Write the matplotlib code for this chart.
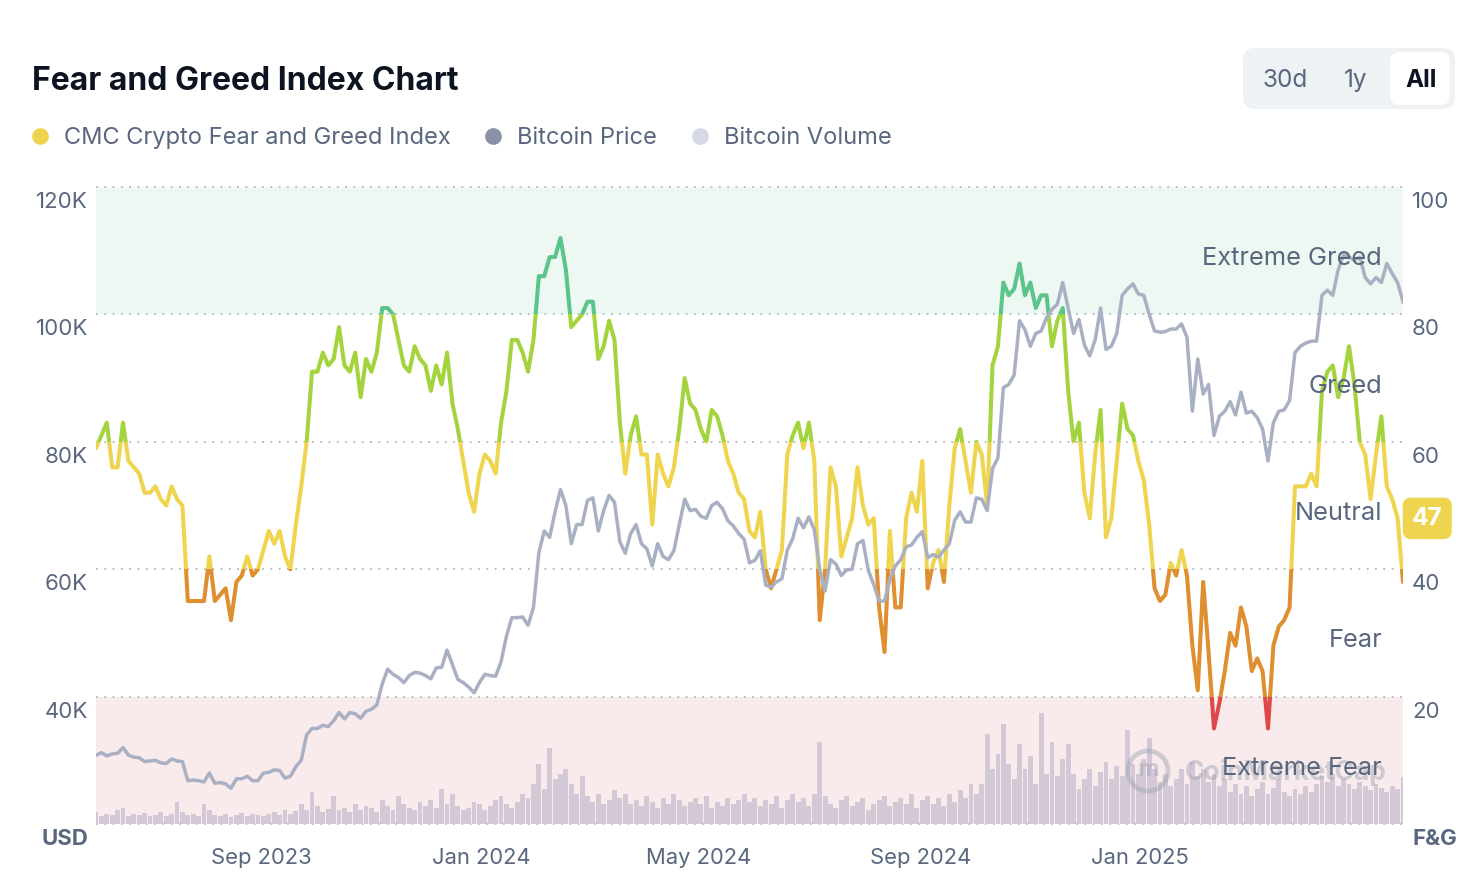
import numpy as np
import pandas as pd
import matplotlib
matplotlib.use('Agg')
import matplotlib.pyplot as plt
import matplotlib.dates as mdates
from matplotlib import transforms
from matplotlib.patches import Rectangle, FancyBboxPatch, Circle
from matplotlib.lines import Line2D

plt.rcParams['font.family'] = ['Inter', 'DejaVu Sans']

# data, one reading every 3 days from 1 Jun 2023
start = '2023-06-01'
step = '3D'

fear_greed = [
    59, 61, 63, 56, 56, 63, 57, 56, 55, 52,
    52, 53, 51, 50, 53, 51, 50, 35, 35, 35,
    35, 42, 35, 36, 37, 32, 38, 39, 42, 39,
    40, 43, 46, 44, 46, 42, 40, 47, 53, 60,
    71, 71, 74, 72, 73, 78, 72, 71, 74, 67,
    73, 71, 74, 81, 81, 80, 76, 72, 71, 75,
    73, 72,
    68, 72, 69, 74, 66, 62, 57, 52,
    49, 55, 58, 57, 55, 63, 68, 76, 76, 74,
    71, 76, 86, 86, 89, 89, 92, 87, 78, 79,
    80, 82, 82, 73, 75, 79, 76, 63, 55, 61,
    64, 58, 58, 47, 58, 55, 53, 56, 62, 70,
    66, 65, 62, 60, 65, 64, 61, 57, 55, 52,
    51, 46, 45, 49,
    40, 37, 40, 43, 58, 61, 63, 59, 63, 57,
    32, 40, 56, 53, 42, 45, 48, 56, 50, 47,
    48, 34, 27, 46, 34, 34, 48, 52, 49, 57,
    37, 41, 43, 38, 50, 59, 62, 57, 52, 60,
    58, 50, 72, 75, 85, 83, 84, 88, 83, 85,
    81, 83, 83, 75, 79, 81, 68, 60, 63, 52,
    48, 58,
    65, 45, 48, 57, 66, 62, 61, 57, 54, 47,
    37, 35, 36, 41, 39, 43, 39, 28, 21, 38,
    27, 15, 19, 24, 30, 28, 34, 31, 24, 26,
    24, 15, 28, 31, 32, 34, 53, 53, 53, 55,
    53, 68, 71, 72, 67, 70, 75, 69, 60, 58,
    51, 58, 64, 53, 51, 48, 38,
]

# bitcoin price, thousands of USD
btc_price = [
    30.8, 31.2, 30.7, 31.0, 31.1, 32.0, 30.8, 30.5, 30.4, 29.8,
    29.9, 30.0, 29.6, 29.5, 30.2, 29.9, 29.8, 26.8, 26.9, 26.8,
    26.6, 28.0, 26.4, 26.5, 26.3, 25.6, 27.1, 27.1, 27.5, 26.8,
    26.8, 28.0, 28.1, 28.5, 28.4, 27.2, 27.5, 29.0, 30.0, 34.0,
    35.0, 35.0, 35.5, 35.3, 36.2, 37.5, 36.5, 37.5, 37.3, 36.6,
    37.7, 38.0, 38.7, 42.0, 44.3, 43.5, 43.0, 42.2, 43.3, 43.8,
    43.7, 43.3,
    42.8, 44.5, 44.6, 47.3, 45.0, 42.7, 42.2, 41.5,
    40.6, 42.2, 43.5, 43.3, 43.2, 45.5, 49.5, 52.4, 52.4, 52.5,
    51.2, 54.0, 62.6, 66.0, 65.0, 69.0, 72.5, 70.0, 64.0, 67.0,
    67.0, 70.8, 71.2, 66.0, 69.2, 71.6, 70.5, 64.3, 62.5, 65.6,
    67.0, 64.0, 63.2, 60.5, 64.0, 62.0, 61.5, 62.9, 67.0, 71.0,
    69.2, 69.4, 68.3, 68.0, 70.0, 70.5, 69.5, 67.6, 66.8, 65.6,
    64.7, 61.0, 61.4, 62.9,
    57.5, 57.2, 58.0, 58.5, 63.0, 64.8, 68.0, 66.5, 68.2, 66.2,
    60.0, 56.6, 61.5, 60.8, 59.0, 59.9, 60.0, 64.0, 64.5, 59.8,
    57.6, 55.0, 55.0, 58.4, 60.5, 61.5, 63.5, 63.8, 65.0, 65.9,
    61.8, 62.3, 61.9, 63.0, 64.0, 67.7, 69.0, 67.4, 67.4, 71.2,
    71.0, 69.2, 75.8, 77.5, 88.5, 89.0, 90.5, 99.0, 97.6, 95.0,
    97.0, 97.4, 99.5, 100.8, 101.6, 105.0, 101.0, 97.0, 99.2, 95.2,
    93.5, 96.0,
    101.0, 94.5, 95.0, 97.0, 103.0, 104.0, 104.8, 103.2, 103.0, 100.0,
    97.4, 97.2, 97.3, 97.7, 97.7, 98.5, 96.4, 84.8, 93.0, 87.5,
    89.0, 81.0, 84.0, 84.8, 86.3, 84.2, 87.8, 84.5, 84.8, 83.8,
    82.0, 77.0, 83.0, 84.8, 85.0, 86.5, 94.0, 95.0, 95.5, 95.8,
    95.8, 103.0, 103.8, 103.0, 107.0, 109.4, 109.0, 108.5, 109.0, 105.8,
    104.8, 105.8, 105.0, 108.0, 106.4, 105.0, 102.0,
]

# bitcoin volume, billions of USD
btc_volume = [
    12, 8, 10, 9, 14, 16, 8, 10, 9, 11, 8,
    9, 12, 8, 10, 22, 12, 9, 10, 8, 20,
    14, 9, 8, 10, 7, 9, 11, 8, 10, 9,
    8, 10, 12, 9, 14, 10, 13, 20, 14, 32,
    18, 12, 15, 28, 14, 16, 12, 20, 14, 18,
    16, 12, 24, 18, 14, 28, 20, 16, 14, 22,
    18, 24, 16, 35, 20, 30, 18, 14, 16, 22,
    20, 14, 18, 24, 28, 20, 16, 22, 30, 26,
    40, 60, 35, 76, 45, 50,
    55, 40, 30, 48,
    28, 22, 30, 20, 24, 34, 26, 30, 20, 24,
    18, 28, 22, 16, 26, 20, 30, 24, 18, 22,
    26, 20, 28, 16, 22, 18, 26, 20, 24, 30,
    22, 26, 18, 24,
    20, 28, 16, 24, 30, 22,
    26, 18, 30, 82, 28,
    20, 16, 24, 28, 18, 22, 26, 14, 20, 24,
    28, 18, 22, 26, 20, 30, 16, 24, 28, 20,
    26, 18, 30, 22, 34, 26, 40, 30, 40, 90,
    55, 70, 100, 60, 45, 80, 55, 68, 40, 112, 50, 82, 48, 65, 80, 50, 35,
    45, 55, 38, 52, 62, 45, 58, 48, 94, 60,
    50, 65, 86, 55, 42, 50, 38, 45, 55, 40,
    62, 48, 55, 42, 50, 38, 45, 32, 40, 30,
    38, 28, 35, 42, 30, 36, 45, 32, 28, 35,
    30, 38, 32, 40, 48, 42, 50, 38, 45, 40,
    35, 42, 38, 34, 40, 36, 32, 38, 35, 47,
]

current_value = 47

zones = [
    (0, 20, 'Extreme Fear', '#df4848'),
    (20, 40, 'Fear', '#df8e30'),
    (40, 60, 'Neutral', '#efd54f'),
    (60, 80, 'Greed', '#a3d43e'),
    (80, 100, 'Extreme Greed', '#5bc48a'),
]
price_ticks = [20, 40, 60, 80, 100, 120]
fg_ticks = [0, 20, 40, 60, 80, 100]
x_ticks = ['2023-09-01', '2024-01-01', '2024-05-01', '2024-09-01', '2025-01-01']

dates = pd.date_range(start, periods=len(fear_greed), freq=step)

slate = '#58667e'
dark = '#0d1421'

fig = plt.figure(figsize=(14.82, 8.9), dpi=100)
pos = [96 / 1482, 66 / 890, 1307 / 1482, 637 / 890]

# bottom layer: zone bands, grid, index line
ax = fig.add_axes(pos)
ax.set_xlim(dates[0], dates[-1])
ax.set_ylim(0, 100)
ax.axhspan(80, 100, color='#eef8f2', lw=0, zorder=0)
ax.axhspan(0, 20, color='#f9ebeb', lw=0, zorder=0)
for v in fg_ticks:
    ax.axhline(v, color='#b3b7bf', lw=1.3, ls=(0, (1, 3.6)), zorder=1, clip_on=False)

band = transforms.blended_transform_factory(ax.transAxes, ax.transData)
for lo, hi, name, col in zones:
    ln, = ax.plot(dates, fear_greed, color=col, lw=2.9, zorder=3,
                  solid_joinstyle='round', solid_capstyle='round')
    lo_c = lo if lo > 0 else -20
    hi_c = hi if hi < 100 else 120
    ln.set_clip_path(Rectangle((0, lo_c), 1, hi_c - lo_c, transform=band))

# volume layer
axv = fig.add_axes(pos, sharex=ax)
axv.bar(dates, btc_volume, width=2.7, color='#d3c8d6', lw=0)
axv.set_ylim(0, 640)
axv.axis('off')

# price layer
axp = fig.add_axes(pos, sharex=ax)
axp.patch.set_visible(False)
axp.plot(dates, btc_price, color='#a9b0c3', lw=2.5, solid_joinstyle='round')
axp.set_ylim(20, 120)

for a in (ax, axp):
    for s in a.spines.values():
        s.set_visible(False)
    a.set_yticks([])
ax.tick_params(axis='x', labelbottom=False, length=0)
axp.set_xticks(pd.to_datetime(x_ticks))
axp.xaxis.set_major_formatter(mdates.DateFormatter('%b %Y'))
axp.tick_params(axis='x', length=0, pad=17.5, labelsize=15.8, labelcolor=slate)

# y labels sit a little below their grid lines
left_t = transforms.blended_transform_factory(axp.transAxes, axp.transData) + \
    transforms.ScaledTranslation(-0.08, -0.15, fig.dpi_scale_trans)
right_t = transforms.blended_transform_factory(ax.transAxes, ax.transData) + \
    transforms.ScaledTranslation(0.09, -0.15, fig.dpi_scale_trans)
for v in price_ticks:
    lab = 'USD' if v == price_ticks[0] else f'{v}K'
    axp.text(0, v, lab, transform=left_t, ha='right', va='center', fontsize=16,
             color=slate, fontweight='bold' if v == price_ticks[0] else 'normal')
for v in fg_ticks:
    lab = 'F&G' if v == 0 else str(v)
    ax.text(1, v, lab, transform=right_t, ha='left', va='center', fontsize=16,
            color=slate, fontweight='bold' if v == 0 else 'normal')

# zone names
zt = transforms.blended_transform_factory(axp.transAxes, ax.transData) + \
    transforms.ScaledTranslation(0, -0.08, fig.dpi_scale_trans)
for lo, hi, name, col in zones:
    axp.text(0.984, (lo + hi) / 2, name, transform=zt, ha='right', va='center',
             fontsize=18.3, color=slate, zorder=10)

# current value badge
ax.annotate(str(current_value), xy=(1, current_value), xycoords=band,
            xytext=(17.5, 4.5), textcoords='offset points', ha='center', va='center',
            fontsize=17.5, fontweight='bold', color='white', annotation_clip=False,
            bbox=dict(boxstyle='round,pad=0.38,rounding_size=0.35', fc='#efd54f', ec='none'))

# watermark
axv.add_patch(Circle((11.48, 1.19), 0.2, transform=fig.dpi_scale_trans, fill=False,
                     lw=3.5, ec='#9aa2b4', alpha=0.45, clip_on=False))
axv.text(11.48, 1.20, 'm', transform=fig.dpi_scale_trans, ha='center', va='center',
         fontsize=17, fontweight='bold', color='#9aa2b4', alpha=0.45)
axv.text(11.85, 1.17, 'CoinMarketCap', transform=fig.dpi_scale_trans, ha='left',
         va='center', fontsize=19, fontweight='bold', color='#9aa2b4', alpha=0.45)

# title, legend, range buttons
fig.text(32 / 1482, 1 - 81 / 890, 'Fear and Greed Index Chart', fontsize=23,
         fontweight='bold', color=dark, va='center')
legend = [('CMC Crypto Fear and Greed Index', '#efd54f', 40),
          ('Bitcoin Price', '#8a91a6', 493),
          ('Bitcoin Volume', '#d5d9e4', 700)]
for name, col, x in legend:
    fig.add_artist(Line2D([x / 1482], [1 - 136 / 890], marker='o', markersize=11,
                          color=col, transform=fig.transFigure))
    fig.text((x + 24) / 1482, 1 - 138 / 890, name, fontsize=17, color=slate, va='center')

fig.add_artist(FancyBboxPatch((12.43, 7.81), 2.12, 0.61, transform=fig.dpi_scale_trans,
                              boxstyle='round,pad=0,rounding_size=0.12', fc='#eff2f5', ec='none'))
fig.add_artist(FancyBboxPatch((13.90, 7.85), 0.60, 0.53, transform=fig.dpi_scale_trans,
                              boxstyle='round,pad=0,rounding_size=0.1', fc='white', ec='none'))
for lab, x, w, c in [('30d', 1285, 'normal', slate), ('1y', 1356, 'normal', slate),
                     ('All', 1421, 'bold', dark)]:
    fig.text(x / 1482, 1 - 80.5 / 890, lab, fontsize=17.5, fontweight=w, color=c,
             ha='center', va='center')

fig.savefig('out.png', dpi=100, facecolor='white')
